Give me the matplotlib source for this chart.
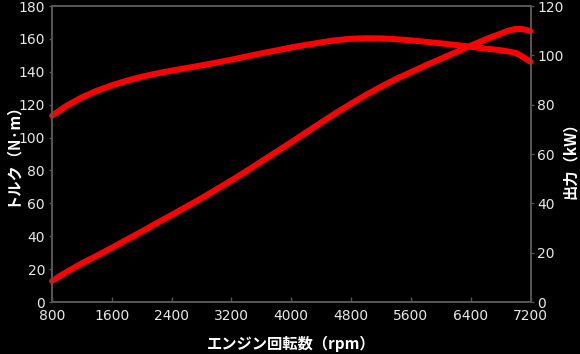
import matplotlib
matplotlib.use("Agg")
import matplotlib.pyplot as plt

plt.rcParams['font.family'] = ['DejaVu Sans', 'Noto Sans CJK JP']

# Data
torque_rpm = [800, 1000, 1200, 1400, 1600, 1800, 2000, 2200, 2400, 2600, 2800,
              3000, 3200, 3400, 3600, 3800, 4000, 4200, 4400, 4600, 4800,
              5000, 5200, 5400, 5600, 5800, 6000, 6200, 6400, 6600, 6800,
              6900, 7000, 7100, 7200]
torque_nm = [113.3, 119.5, 124.5, 128.5, 131.8, 134.6, 137.0, 139.0, 140.7, 142.3, 143.9,
             145.6, 147.4, 149.3, 151.2, 153.0, 154.8, 156.4, 157.9, 159.2, 160.1,
             160.4, 160.3, 159.8, 159.1, 158.2, 157.3, 156.3, 155.2, 154.1, 153.1,
             152.4, 151.5, 149.0, 146.0]

power_rpm = [800, 1000, 1200, 1400, 1600, 1800, 2000, 2200, 2400, 2600, 2800,
             3000, 3200, 3400, 3600, 3800, 4000, 4200, 4400, 4600, 4800,
             5000, 5200, 5400, 5600, 5800, 6000, 6200, 6400, 6600, 6800,
             6900, 7000, 7100, 7200]
power_kw = [8.5, 12.3, 15.7, 18.8, 22.0, 25.3, 28.6, 32.0, 35.3, 38.7, 42.1,
            45.7, 49.3, 53.1, 57.0, 60.9, 64.8, 68.8, 72.8, 76.7, 80.4,
            84.0, 87.3, 90.4, 93.2, 96.0, 98.6, 101.3, 103.9, 106.5, 108.8,
            110.0, 110.7, 110.6, 109.8]

x_ticks = [800, 1600, 2400, 3200, 4000, 4800, 5600, 6400, 7200]
left_ticks = [0, 20, 40, 60, 80, 100, 120, 140, 160, 180]
right_ticks = [0, 20, 40, 60, 80, 100, 120]

x_label = "エンジン回転数（rpm）"
left_label = "トルク（N·m）"
right_label = "出力（kW）"

line_color = "#ff0000"
spine_color = "#555555"
tick_text = "#e8e8e8"

fig = plt.figure(figsize=(5.8, 3.54), dpi=100, facecolor="black")
ax = fig.add_axes([52/580, 1-302/354, (530.5-52)/580, (302-6)/354])
ax.set_facecolor("black")
ax2 = ax.twinx()

ax.plot(torque_rpm, torque_nm, color=line_color, lw=4.3, solid_capstyle="round",
        solid_joinstyle="round", clip_on=False)
ax2.plot(power_rpm, power_kw, color=line_color, lw=4.3, solid_capstyle="round",
         solid_joinstyle="round", clip_on=False)

ax.set_xlim(800, 7200)
ax.set_ylim(0, 180)
ax2.set_ylim(0, 120)
ax.set_xticks(x_ticks)
ax.set_yticks(left_ticks)
ax2.set_yticks(right_ticks)

for a in (ax, ax2):
    for s in a.spines.values():
        s.set_color(spine_color)
        s.set_linewidth(1.3)

ax.tick_params(axis='y', direction='out', length=2.5, width=1, color=spine_color,
               labelcolor=tick_text, labelsize=10, pad=2.5)
ax.tick_params(axis='x', direction='in', length=3.5, width=1, color=spine_color,
               labelcolor=tick_text, labelsize=10, pad=5)
ax2.tick_params(axis='y', direction='out', length=2.5, width=1, color=spine_color,
                labelcolor=tick_text, labelsize=10, pad=2.5)

cjk = ['Noto Sans CJK JP', 'DejaVu Sans']
ax.set_xlabel(x_label, color="white", fontsize=11, fontweight='bold', family=cjk, labelpad=9)
fig.text(11/580, 1-150/354, left_label, color="white", fontsize=11, fontweight='bold',
         family=cjk, rotation=90, ha='center', va='center')
fig.text(570/580, 1-157/354, right_label, color="white", fontsize=11, fontweight='bold',
         family=cjk, rotation=90, ha='center', va='center')

fig.savefig("out.png", dpi=100, facecolor="black")
